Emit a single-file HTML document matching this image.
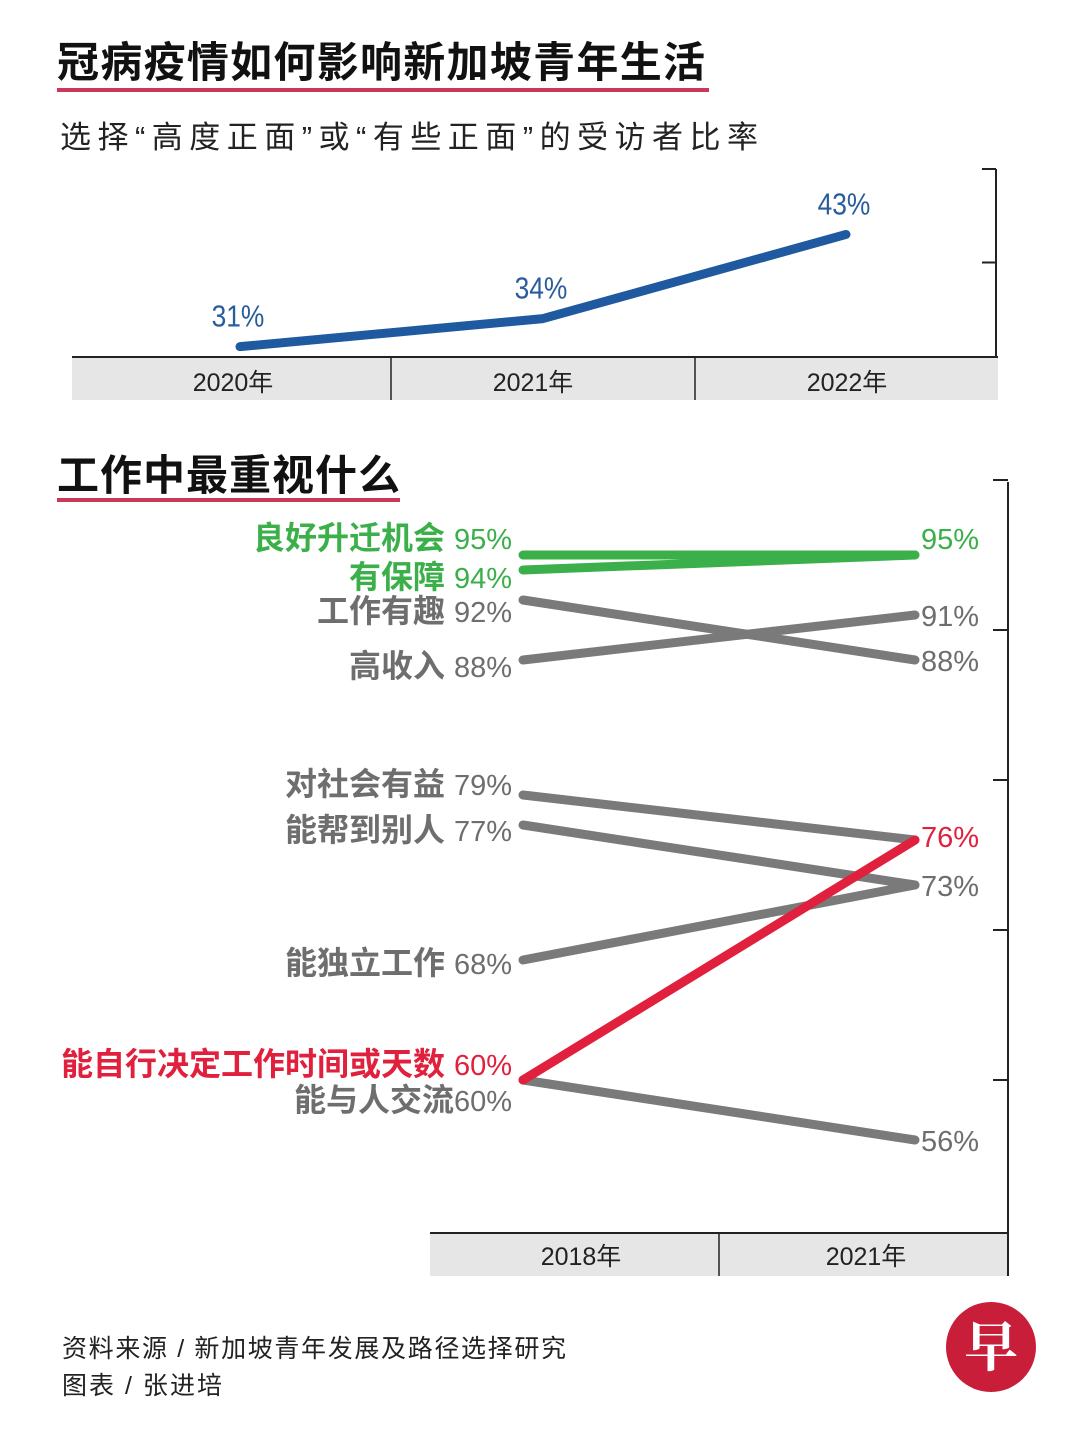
<!DOCTYPE html>
<html><head><meta charset="utf-8">
<style>
html,body{margin:0;padding:0;background:#fff;}
body{width:1080px;height:1440px;position:relative;overflow:hidden;font-family:"Liberation Sans","Noto Sans CJK SC",sans-serif;}
svg{position:absolute;left:0;top:0;}
</style></head>
<body>
<svg id="chart" width="1080" height="1440">
  <text x="57" y="77" font-size="42" font-weight="bold" fill="#111" textLength="648" font-family="Liberation Sans, Noto Sans CJK SC, sans-serif">冠病疫情如何影响新加坡青年生活</text>
  <rect x="57" y="88" width="652" height="4" fill="#c8385a"/>
  <text x="60" y="148" font-size="31" fill="#222" textLength="698" font-family="Liberation Sans, Noto Sans CJK SC, sans-serif">选择“高度正面”或“有些正面”的受访者比率</text>
  <g id="topChart"></g>
  <text x="57" y="490" font-size="42" font-weight="bold" fill="#111" textLength="343" font-family="Liberation Sans, Noto Sans CJK SC, sans-serif">工作中最重视什么</text>
  <rect x="57" y="498" width="343" height="4" fill="#c8385a"/>
  <g id="botChart"></g>
  <text x="62" y="1357" font-size="25" fill="#222" textLength="504" font-family="Liberation Sans, Noto Sans CJK SC, sans-serif">资料来源 / 新加坡青年发展及路径选择研究</text>
  <text x="62" y="1394" font-size="25" fill="#222" textLength="160" font-family="Liberation Sans, Noto Sans CJK SC, sans-serif">图表 / 张进培</text>
  <g>
    <circle cx="991" cy="1347" r="45" fill="#c81e3a"/>
    <text x="991" y="1366" text-anchor="middle" font-size="54" font-weight="bold" fill="#fff" font-family="Noto Serif CJK SC, serif">早</text>
  </g>
</svg>
<script>
// Top chart data
const topYears = ["2020年","2021年","2022年"];
const topValues = [31, 34, 43];
const topLabels = ["31%","34%","43%"];
// Bottom chart data
const botYears = ["2018年","2021年"];
const botCategories = ["良好升迁机会","有保障","工作有趣","高收入","对社会有益","能帮到别人","能独立工作","能自行决定工作时间或天数","能与人交流"];
const bot2018 = [95, 94, 92, 88, 79, 77, 68, 60, 60];
const bot2021 = [95, 95, 88, 91, 76, 73, 73, 76, 56];
const botKinds = ["green","green","gray","gray","gray","gray","gray","red","gray"];
const botRightShown = [true,false,true,true,false,true,false,true,true];

const NS="http://www.w3.org/2000/svg";
const FONT="Liberation Sans, Noto Sans CJK SC, sans-serif";
function mk(parent,tag,attrs){const e=document.createElementNS(NS,tag);for(const k in attrs)e.setAttribute(k,attrs[k]);parent.appendChild(e);return e;}

// ---- top chart
const topG=document.getElementById('topChart');
const tY=v=>356-(v-30)*9.35;
const tX=i=>240+i*303;
mk(topG,'rect',{x:72,y:358,width:926,height:42,fill:'#e6e6e6'});
mk(topG,'line',{x1:72,y1:357,x2:998,y2:357,stroke:'#222','stroke-width':2});
[391,695].forEach(x=>mk(topG,'line',{x1:x,y1:358,x2:x,y2:400,stroke:'#222','stroke-width':1.5}));
mk(topG,'line',{x1:996,y1:169,x2:996,y2:357,stroke:'#222','stroke-width':2});
[50,40].forEach(v=>mk(topG,'line',{x1:982,y1:tY(v),x2:996,y2:tY(v),stroke:'#222','stroke-width':2}));
topYears.forEach((y,i)=>{const t=mk(topG,'text',{x:[233,533,847][i],y:391,'text-anchor':'middle','font-size':25,fill:'#222','font-family':FONT});t.textContent=y;

});
const pts=topValues.map((v,i)=>tX(i)+','+tY(v)).join(' ');
const tl=mk(topG,'polyline',{points:pts,fill:'none',stroke:'#1f5aa0','stroke-width':9,'stroke-linecap':'round','stroke-linejoin':'round'});


topValues.forEach((v,i)=>{const cx=tX(i)-2;const t=mk(topG,'text',{x:cx,y:tY(v)-20,'text-anchor':'middle','font-size':31,fill:'#2a5d9c','font-family':FONT,transform:`translate(${cx},0) scale(0.85,1) translate(${-cx},0)`});t.textContent=topLabels[i];

});

// ---- bottom chart
const botG=document.getElementById('botChart');
const bY=v=>1080-(v-60)*15;
const bX=i=>[523,915][i];
mk(botG,'rect',{x:430,y:1234,width:578,height:42,fill:'#e6e6e6'});
mk(botG,'line',{x1:430,y1:1233,x2:1008,y2:1233,stroke:'#222','stroke-width':2});
mk(botG,'line',{x1:719,y1:1234,x2:719,y2:1276,stroke:'#222','stroke-width':1.5});
mk(botG,'line',{x1:1008,y1:482,x2:1008,y2:1276,stroke:'#222','stroke-width':2});
[100,90,80,70,60].forEach(v=>mk(botG,'line',{x1:993,y1:bY(v),x2:1008,y2:bY(v),stroke:'#222','stroke-width':2}));
botYears.forEach((y,i)=>{const t=mk(botG,'text',{x:[581,866][i],y:1265,'text-anchor':'middle','font-size':25,fill:'#222','font-family':FONT});t.textContent=y;

});
const col={green:'#3bb04a',gray:'#7a7a7a',red:'#e0203c'};
const txtCol={green:'#3bb04a',gray:'#6e6e6e',red:'#e0203c'};
const leftAdj=[-17,7,11,6,-11,5,3,-16,20];
const rightAdj=[-17,0,0,0,0,0,0,-4,0];
const order=[2,3,4,5,6,8,0,1,7];
order.forEach(i=>{
  const l=mk(botG,'line',{x1:bX(0),y1:bY(bot2018[i]),x2:bX(1),y2:bY(bot2021[i]),stroke:col[botKinds[i]],'stroke-width':9,'stroke-linecap':'round'});
  
  
});
botCategories.forEach((c,i)=>{
  const ly=bY(bot2018[i])+leftAdj[i]+11;
  const g=mk(botG,'text',{x:512,y:ly,'text-anchor':'end','font-family':FONT,fill:txtCol[botKinds[i]]});
  const a=mk(g,'tspan',{'font-size':32,'font-weight':'bold'});a.textContent=c+(i===8?'':' ');
  const b=mk(g,'tspan',{'font-size':29});b.textContent=bot2018[i]+'%';
  
  
  if(botRightShown[i]){
    const r=mk(botG,'text',{x:921,y:bY(bot2021[i])+rightAdj[i]+11,'font-size':29,fill:txtCol[botKinds[i]],'font-family':FONT});
    r.textContent=bot2021[i]+'%';
    
    
  }
});
</script>
</body></html>
